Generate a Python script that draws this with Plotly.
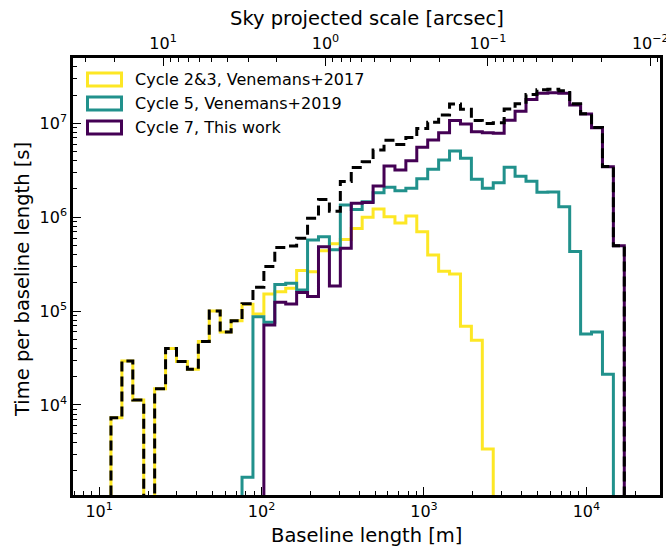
import numpy as np
import plotly.graph_objects as go

# ---------------- data ----------------
edge_min_m = 11.82      # first bin edge [m]
edge_max_m = 17120.0    # last bin edge [m]
n_bins = 47
wavelength_mm = 1.2     # for the sky-scale (top) axis

cycle23 = [7.3e3, 2.94e4, 1.13e4, 0, 1.49e4, 4.0e4, 2.9e4, 2.4e4, 4.75e4, 1.0e5,
           6.0e4, 7.9e4, 1.18e5, 9.3e4, 1.52e5, 1.61e5, 1.75e5, 2.7e5, 2.63e5, 4.4e5,
           5.2e5, 5.8e5, 7.6e5, 1.0e6, 1.22e6, 1.01e6, 8.7e5, 1.03e6, 7.0e5, 3.95e5,
           2.65e5, 2.48e5, 6.9e4, 4.9e4, 3.4e3, 0, 0, 0, 0, 0,
           0, 0, 0, 0, 0, 0, 0]
cycle5 = [0, 0, 0, 0, 0, 0, 0, 0, 0, 0,
          0, 0, 1.7e3, 8.7e4, 7.6e4, 1.92e5, 1.98e5, 1.68e5, 5.7e5, 6.2e5,
          4.5e5, 1.35e6, 1.21e6, 1.46e6, 1.82e6, 2.08e6, 1.91e6, 2.03e6, 2.57e6, 3.24e6,
          4.07e6, 5.07e6, 4.24e6, 2.54e6, 2.03e6, 2.33e6, 3.40e6, 2.73e6, 2.42e6, 1.84e6,
          1.86e6, 1.29e6, 4.3e5, 5.7e4, 6.0e4, 2.12e4, 0]
cycle7 = [0, 0, 0, 0, 0, 0, 0, 0, 0, 0,
          0, 0, 0, 0, 7.1e4, 1.24e5, 1.19e5, 1.58e5, 1.43e5, 4.85e5,
          1.85e5, 4.67e5, 1.41e6, 1.43e6, 2.15e6, 3.51e6, 3.18e6, 4.0e6, 5.55e6, 6.64e6,
          7.94e6, 1.07e7, 9.84e6, 8.15e6, 7.94e6, 7.83e6, 1.08e7, 1.34e7, 1.79e7, 2.09e7,
          2.12e7, 2.09e7, 1.57e7, 1.26e7, 8.98e6, 3.45e6, 4.97e5]

labels = ["Cycle 2&3, Venemans+2017", "Cycle 5, Venemans+2019", "Cycle 7, This work"]
colors = ["#fde725", "#21918c", "#440154"]

x_range_m = [6.90, 28400.0]
y_range_s = [1.10e3, 4.96e7]

# ---------------- derived ----------------
edges = np.geomspace(edge_min_m, edge_max_m, n_bins + 1)
total = np.array(cycle23) + np.array(cycle5) + np.array(cycle7)
K = 206264.806 * wavelength_mm * 1e-3   # arcsec * m


def step_xy(vals, floor=1.0):
    v = np.asarray(vals, dtype=float)
    v = np.where(v > 0, v, floor)
    x = np.concatenate([[edges[0]], edges[:-1], [edges[-1], edges[-1]]])
    y = np.concatenate([[floor], v, [v[-1], floor]])
    return x, y


fig = go.Figure()
for vals, col in zip([cycle23, cycle5, cycle7], colors):
    x, y = step_xy(vals)
    fig.add_trace(go.Scatter(x=x, y=y, mode="lines", line=dict(color=col, width=3, shape="hv"),
                             showlegend=False, hoverinfo="skip"))
x, y = step_xy(total)
fig.add_trace(go.Scatter(x=x, y=y, mode="lines",
                         line=dict(color="black", width=3, shape="hv", dash="10px,5px"),
                         showlegend=False, hoverinfo="skip"))
# invisible trace tied to the top axis
fig.add_trace(go.Scatter(x=[1.0], y=[1e5], xaxis="x2", mode="markers",
                         marker=dict(opacity=0), showlegend=False, hoverinfo="skip"))

FONT = "DejaVu Sans"


def sup(v):
    e = int(round(np.log10(v)))
    s = str(e).replace("-", "\u2212")
    return "10<sup>%s</sup>" % s


xt = [10, 100, 1000, 10000]
xminor = [m * 10.0 ** n for n in range(0, 5) for m in range(2, 10)]
tt = [10, 1, 0.1, 0.01]
tminor = [m * 10.0 ** n for n in range(-3, 2) for m in range(2, 10)]
yt = [1e4, 1e5, 1e6, 1e7]
yminor = [m * 10.0 ** n for n in range(3, 8) for m in range(2, 10)]

axis_common = dict(type="log", showgrid=False, zeroline=False, showline=True, linecolor="black",
                   linewidth=2.5, ticks="inside", ticklen=8, tickwidth=1.4, tickcolor="black",
                   tickfont=dict(family=FONT, size=16, color="black"), tickmode="array",
                   automargin=False, ticklabeloverflow="allow")

fig.update_layout(
    width=666, height=546,
    margin=dict(l=73, r=6, t=58, b=51, autoexpand=False),
    paper_bgcolor="white", plot_bgcolor="white",
    xaxis=dict(range=[np.log10(x_range_m[0]), np.log10(x_range_m[1])],
               tickvals=xt, ticktext=[sup(v) for v in xt], mirror=True,
               minor=dict(tickvals=xminor, ticks="inside", ticklen=4.5, tickwidth=1, tickcolor="black"),
               **axis_common),
    xaxis2=dict(overlaying="x", side="top",
                range=[np.log10(K / x_range_m[0]), np.log10(K / x_range_m[1])],
                tickvals=tt, ticktext=[sup(v) for v in tt],
                minor=dict(tickvals=tminor, ticks="inside", ticklen=4.5, tickwidth=1, tickcolor="black"),
                **axis_common),
    yaxis=dict(range=[np.log10(y_range_s[0]), np.log10(y_range_s[1])],
               tickvals=yt, ticktext=[sup(v) for v in yt], mirror=True,
               minor=dict(tickvals=yminor, ticks="inside", ticklen=4.5, tickwidth=1, tickcolor="black"),
               **axis_common),
    showlegend=False,
)

L, R, T, B = 73.0, 660.0, 58.0, 495.0


def px(xp):
    return (xp - L) / (R - L)


def py(yp):
    return (B - yp) / (B - T)


# axis titles
fig.add_annotation(text="Baseline length [m]", xref="paper", yref="paper", x=px(367), y=py(535),
                   xanchor="center", yanchor="middle", showarrow=False,
                   font=dict(family=FONT, size=19.5, color="black"))
fig.add_annotation(text="Sky projected scale [arcsec]", xref="paper", yref="paper", x=px(367), y=py(18),
                   xanchor="center", yanchor="middle", showarrow=False,
                   font=dict(family=FONT, size=19.5, color="black"))
fig.add_annotation(text="Time per baseline length [s]", xref="paper", yref="paper", x=px(22), y=py(280),
                   xanchor="center", yanchor="middle", showarrow=False, textangle=-90,
                   font=dict(family=FONT, size=19.5, color="black"))

# legend (hollow patches like matplotlib step histograms)
for i, (lab, col) in enumerate(zip(labels, colors)):
    yc = 79.5 + 24 * i
    fig.add_shape(type="rect", xref="paper", yref="paper", x0=px(87.5), x1=px(121.5),
                  y0=py(yc + 6.5), y1=py(yc - 6.5), line=dict(color=col, width=3),
                  fillcolor="rgba(0,0,0,0)")
    fig.add_annotation(text=lab, xref="paper", yref="paper", x=px(133), y=py(yc),
                       xanchor="left", yanchor="middle", showarrow=False,
                       font=dict(family=FONT, size=16, color="black"))

fig.write_html("out.html", config={"displayModeBar": False},
               post_script="document.body.style.margin='0';")
